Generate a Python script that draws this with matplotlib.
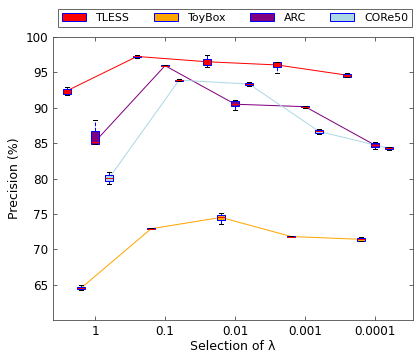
import matplotlib
matplotlib.use("Agg")
import matplotlib.pyplot as plt
from matplotlib.patches import Patch

lambdas = ["1", "0.1", "0.01", "0.001", "0.0001"]
series = ["TLESS", "ToyBox", "ARC", "CORe50"]
colors = ["red", "orange", "purple", "lightblue"]
offsets = [-0.4, -0.2, 0.0, 0.2]

# per series, per lambda: median, q1, q3, whisker low, whisker high
tless_med = [92.4, 97.25, 96.5, 96.05, 94.6]
tless_q1 = [92.0, 97.15, 96.1, 95.7, 94.4]
tless_q3 = [92.7, 97.35, 96.95, 96.4, 94.8]
tless_lo = [91.8, 97.1, 95.8, 94.9, 94.35]
tless_hi = [92.9, 97.4, 97.5, 96.5, 94.9]

toy_med = [64.5, 72.9, 74.5, 71.8, 71.4]
toy_q1 = [64.35, 72.85, 74.1, 71.75, 71.2]
toy_q3 = [64.7, 72.95, 74.9, 71.85, 71.6]
toy_lo = [64.3, 72.8, 73.6, 71.7, 71.1]
toy_hi = [65.0, 73.0, 75.1, 71.9, 71.7]

arc_med = [85.2, 95.95, 90.5, 90.15, 84.7]
arc_q1 = [84.9, 95.9, 90.2, 90.05, 84.4]
arc_q3 = [86.7, 96.0, 91.0, 90.25, 85.0]
arc_lo = [84.9, 95.85, 89.7, 90.0, 84.15]
arc_hi = [88.3, 96.05, 91.1, 90.3, 85.1]

core_med = [80.05, 93.9, 93.35, 86.65, 84.25]
core_q1 = [79.6, 93.85, 93.2, 86.45, 84.1]
core_q3 = [80.45, 93.95, 93.5, 86.85, 84.4]
core_lo = [79.2, 93.8, 93.1, 86.3, 84.0]
core_hi = [80.9, 94.0, 93.6, 87.0, 84.5]

data = [
    (tless_med, tless_q1, tless_q3, tless_lo, tless_hi),
    (toy_med, toy_q1, toy_q3, toy_lo, toy_hi),
    (arc_med, arc_q1, arc_q3, arc_lo, arc_hi),
    (core_med, core_q1, core_q3, core_lo, core_hi),
]

plt.rcParams["font.family"] = ["DejaVu Sans"]
plt.rcParams["font.size"] = 12

fig = plt.figure(figsize=(415 / 72, 352 / 72), dpi=72, facecolor="white")
ax = fig.add_axes([53 / 415, 32 / 352, 360 / 415, 283 / 352])

ticks = list(range(1, len(lambdas) + 1))
for (med, q1, q3, lo, hi), col, off in zip(data, colors, offsets):
    pos = [t + off for t in ticks]
    stats = [
        dict(med=m, q1=a, q3=b, whislo=l, whishi=h, fliers=[])
        for m, a, b, l, h in zip(med, q1, q3, lo, hi)
    ]
    ax.plot(pos, med, color=col, lw=1.0, zorder=1)
    ax.bxp(
        stats, positions=pos, widths=0.11, patch_artist=True, showfliers=False,
        boxprops=dict(facecolor=col, edgecolor="blue", linewidth=1),
        medianprops=dict(color="red", linewidth=1),
        whiskerprops=dict(color="blue", linestyle="--", linewidth=1),
        capprops=dict(color="black", linewidth=1),
        manage_ticks=False, zorder=2,
    )

ax.set_xlim(0.4, 5.54)
ax.set_ylim(60, 100)
ax.set_xticks(ticks)
ax.set_xticklabels(lambdas, fontsize=12)
ax.set_yticks([65, 70, 75, 80, 85, 90, 95, 100])
ax.tick_params(direction="in", top=True, right=True, length=4, color="#444444",
               labelsize=12, pad=5)
for s in ax.spines.values():
    s.set_color("#444444")
ax.set_xlabel("Selection of λ", fontsize=12.5, labelpad=2)
ax.set_ylabel("Precision (%)", fontsize=12.5, labelpad=4)

handles = [Patch(facecolor=c, edgecolor="blue", linewidth=1) for c in colors]
leg = fig.legend(
    handles, series, loc="lower left", ncol=4, mode="expand",
    bbox_to_anchor=(58 / 415, (352 - 27) / 352, 354 / 415, 22 / 352),
    borderaxespad=0, fancybox=False, handlelength=2.2, handleheight=0.7,
    handletextpad=0.9, fontsize=11, frameon=True, borderpad=0.35,
)
leg.get_frame().set_edgecolor("#444444")
leg.get_frame().set_linewidth(1)

fig.savefig("out.png", dpi=72, facecolor="white")
